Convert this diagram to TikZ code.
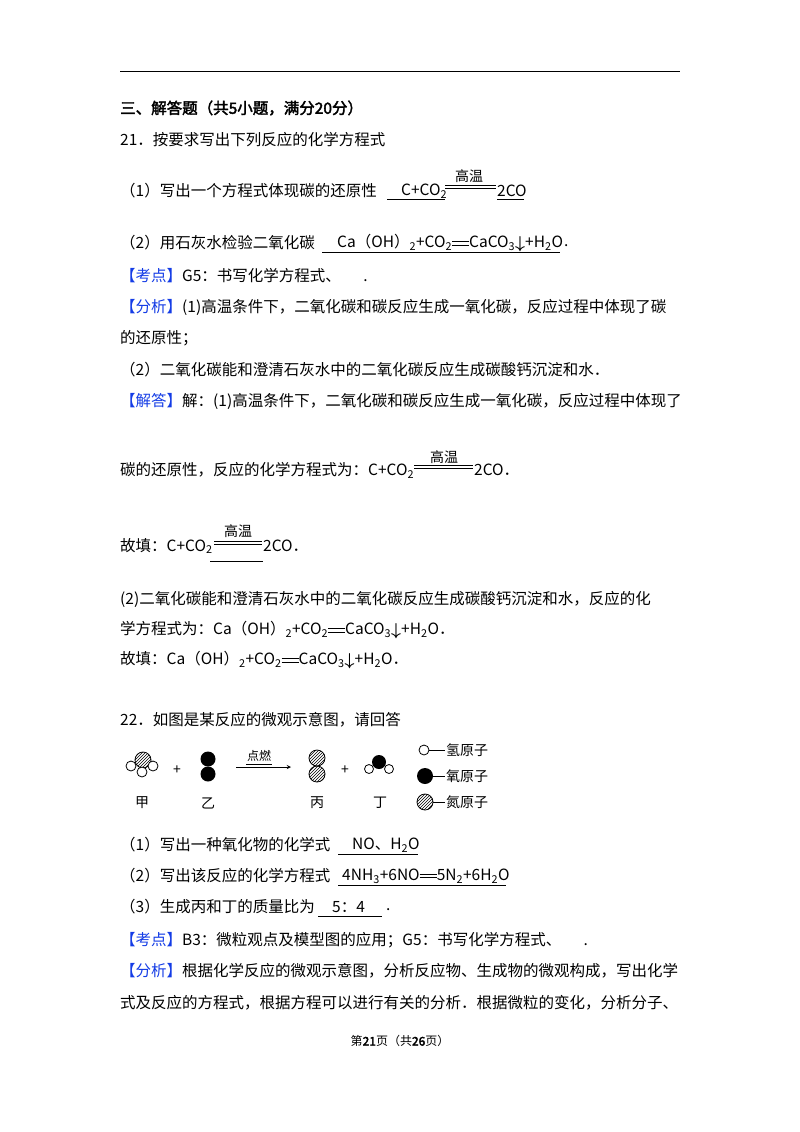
\documentclass[tikz,border=0pt]{standalone}
\usepackage{fontspec}
\setmainfont{Noto Sans CJK SC}[AutoFakeBold=2.5]
\usetikzlibrary{patterns}
\newcommand\dbl[1][1.1em]{\raisebox{.3ex}{\rlap{\rule{#1}{.45pt}}\raisebox{.22em}{\rule{#1}{.45pt}}}}
\newcommand\sub[1]{\textsubscript{#1}}
\newcommand\dn{\raisebox{-.1ex}{\fontsize{17}{18}\selectfont$\boldsymbol{\downarrow}$}}
\usepackage{amsmath}
\definecolor{kblue}{RGB}{20,60,230}
\begin{document}
\begin{tikzpicture}[x=1pt,y=-1pt,
  t/.style={anchor=west,inner sep=0pt,font=\fontsize{15.5}{18}\selectfont},
  sm/.style={inner sep=0pt,font=\fontsize{14}{16}\selectfont},
  ul/.style={line width=0.7pt},
  hatch/.style={draw,line width=0.8pt,pattern=north east lines},
  wh/.style={draw,fill=white,line width=0.8pt},
  bl/.style={fill=black}]
\fill[white] (0,0) rectangle (800,1132);
\useasboundingbox (0,0) rectangle (800,1132);
\draw[line width=1pt] (120,72) -- (680,72);
\node[t,font=\fontsize{15.5}{18}\selectfont\bfseries] (h) at (120,108) {三、解答题（共5小题，满分20分）};
\node[t] (q21) at (120,140) {21．按要求写出下列反应的化学方程式};
% (1)
\node[t] (a1) at (120,191) {（1）写出一个方程式体现碳的还原性};
\node[t] (a1f) at (401,191) {C+CO\sub{2}};
\draw[ul] (387,199) -- (445,199);
\draw[line width=.5pt] (445,185) -- (496,185) (445,188.5) -- (496,188.5);
\node[sm] (a1g) at (469,176) {高温};
\node[t] (a1p) at (497,191) {2CO};
\draw[ul] (497,199) -- (524,199);
% (2)
\node[t] (a2) at (120,243) {（2）用石灰水检验二氧化碳};
\node[t] (a2f) at (337,243) {Ca（OH）\sub{2}+CO\sub{2}\dbl CaCO\sub{3}\dn+H\sub{2}O};
\draw[ul] (322,252) -- (560,252);
\node[t] (a2d) at (564,246) {.};
% kaodian
\node[t] (k1) at (120,276) {\textcolor{kblue}{【考点】}G5：书写化学方程式、\quad\ \ .};
\node[t] (f1) at (120,307) {\textcolor{kblue}{【分析】}(1)高温条件下，二氧化碳和碳反应生成一氧化碳，反应过程中体现了碳};
\node[t] (f2) at (120,338) {的还原性；};
\node[t] (f3) at (120,370) {（2）二氧化碳能和澄清石灰水中的二氧化碳反应生成碳酸钙沉淀和水．};
\node[t] (j1) at (120,401) {\textcolor{kblue}{【解答】}解：(1)高温条件下，二氧化碳和碳反应生成一氧化碳，反应过程中体现了};
\node[t] (j2) at (120,470) {碳的还原性，反应的化学方程式为：C+CO\sub{2}};
\draw[line width=.5pt] (414,465) -- (473,465) (414,468.5) -- (473,468.5);
\node[sm] (j2g) at (444,457) {高温};
\node[t] (j2p) at (474,470) {2CO．};
\node[t] (j3) at (120,546) {故填：C+CO\sub{2}};
\draw[line width=.5pt] (214,541) -- (262,541) (214,544.5) -- (262,544.5);
\node[sm] (j3g) at (238,531) {高温};
\node[t] (j3p) at (263,546) {2CO．};
\draw[line width=.5pt] (210,561) -- (263,561);
\node[t] (j4) at (120,599) {(2)二氧化碳能和澄清石灰水中的二氧化碳反应生成碳酸钙沉淀和水，反应的化};
\node[t] (j5) at (120,630) {学方程式为：Ca（OH）\sub{2}+CO\sub{2}\dbl CaCO\sub{3}\dn+H\sub{2}O．};
\node[t] (j6) at (120,660) {故填：Ca（OH）\sub{2}+CO\sub{2}\dbl CaCO\sub{3}\dn+H\sub{2}O．};
% 22
\node[t] (q22) at (120,720) {22．如图是某反应的微观示意图，请回答};
% molecules
\node[circle,hatch,minimum size=16pt,inner sep=0pt] (m1) at (143,760) {};
\node[circle,wh,minimum size=10pt,inner sep=0pt] (m2) at (131,766) {};
\node[circle,wh,minimum size=10pt,inner sep=0pt] (m3) at (153,766) {};
\node[circle,wh,minimum size=10pt,inner sep=0pt] (m4) at (142,772) {};
\node[sm] (p1) at (177,770) {+};
\node[circle,bl,minimum size=15pt,inner sep=0pt] (o1) at (208,759) {};
\node[circle,bl,minimum size=15pt,inner sep=0pt] (o2) at (208,774) {};
\coordinate (ar1) at (236,767); \coordinate (ar2) at (291,767);
\draw[-stealth,line width=.9pt] (ar1) -- (ar2);
\node[sm,font=\fontsize{12}{14}\selectfont] (dr) at (259,756) {点燃};
\draw[line width=.6pt] (246,764) -- (272,764);
\node[circle,hatch,minimum size=16pt,inner sep=0pt] (n1) at (317,758) {};
\node[circle,hatch,minimum size=16pt,inner sep=0pt] (n2) at (317,774) {};
\node[sm] (p2) at (345,770) {+};
\node[circle,bl,minimum size=14pt,inner sep=0pt] (w1) at (379,762) {};
\node[circle,wh,minimum size=9pt,inner sep=0pt] (w2) at (369,769) {};
\node[circle,wh,minimum size=9pt,inner sep=0pt] (w3) at (389,769) {};
\node[sm] (l1) at (142,803) {甲};
\node[sm] (l2) at (208,803) {乙};
\node[sm] (l3) at (317,803) {丙};
\node[sm] (l4) at (380,803) {丁};
% legend
\node[circle,wh,minimum size=10pt,inner sep=0pt] (g1) at (424,750) {};
\coordinate (g1e) at (445,750);
\draw[line width=.7pt] (g1) -- (g1e);
\node[sm,anchor=west] (g1t) at (446,750) {氢原子};
\node[circle,bl,minimum size=16pt,inner sep=0pt] (g2) at (425,776) {};
\coordinate (g2e) at (445,776);
\draw[line width=.7pt] (g2) -- (g2e);
\node[sm,anchor=west] (g2t) at (446,776) {氧原子};
\node[circle,hatch,minimum size=16pt,inner sep=0pt] (g3) at (425,802) {};
\coordinate (g3e) at (445,802);
\draw[line width=.7pt] (g3) -- (g3e);
\node[sm,anchor=west] (g3t) at (446,802) {氮原子};
% answers 22
\node[t] (b1) at (120,845) {（1）写出一种氧化物的化学式};
\node[t] (b1f) at (352,845) {NO、H\sub{2}O};
\draw[ul] (338,854) -- (418,854);
\node[t] (b2) at (120,876) {（2）写出该反应的化学方程式};
\node[t] (b2f) at (342,876) {4NH\sub{3}+6NO\dbl 5N\sub{2}+6H\sub{2}O};
\draw[ul] (338,885) -- (506,885);
\node[t] (b3) at (120,907) {（3）生成丙和丁的质量比为};
\node[t] (b3f) at (332,907) {5：4};
\draw[ul] (318,916) -- (382,916);
\node[t] (b3d) at (386,910) {.};
\node[t] (k2) at (120,940) {\textcolor{kblue}{【考点】}B3：微粒观点及模型图的应用；G5：书写化学方程式、\quad\ \ .};
\node[t] (f4) at (120,971) {\textcolor{kblue}{【分析】}根据化学反应的微观示意图，分析反应物、生成物的微观构成，写出化学};
\node[t] (f5) at (120,1003) {式及反应的方程式，根据方程可以进行有关的分析．根据微粒的变化，分析分子、};
\node[inner sep=0pt,font=\fontsize{12}{14}\selectfont] (ft) at (400,1041) {第\textbf{21}页（共\textbf{26}页）};
\end{tikzpicture}
\end{document}
